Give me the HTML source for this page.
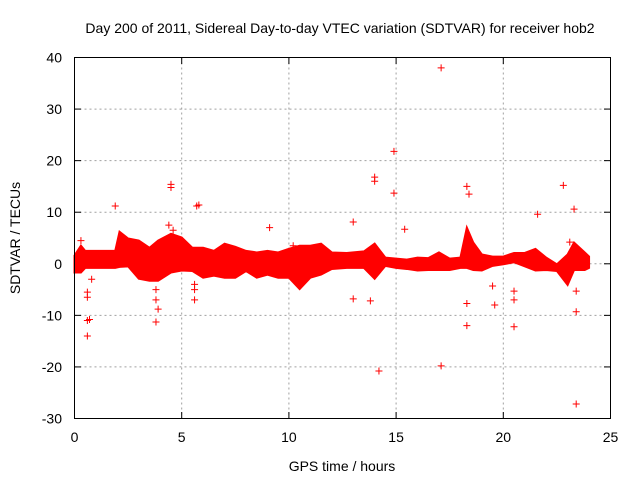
<!DOCTYPE html>
<html><head><meta charset="utf-8"><style>
body{margin:0;background:#fff}
svg{display:block;font-family:"Liberation Sans",sans-serif}
</style></head><body>
<svg id="c" width="640" height="480">
<text x="340" y="33" font-size="14" text-anchor="middle">Day 200 of 2011, Sidereal Day-to-day VTEC variation (SDTVAR) for receiver hob2</text>
<text x="342" y="471" font-size="14" text-anchor="middle">GPS time / hours</text>
<text x="20" y="238" font-size="14" text-anchor="middle" transform="rotate(-90 20 238)">SDTVAR / TECUs</text>
<g id="grid"></g><g id="ticks"></g><g id="band"></g><g id="pts"></g>
<rect x="74.5" y="57.5" width="536" height="361" fill="none" stroke="#000" stroke-width="1"/>
</svg>
<script>
const xTicks=[0,5,10,15,20,25];
const yTicks=[-30,-20,-10,0,10,20,30,40];
const bandHours=[0,0.3,0.5,1.0,1.9,2.1,2.5,3.0,3.5,3.9,4.5,5.0,5.5,6.0,6.5,7.0,7.5,8.0,8.5,9.0,9.5,10.0,10.5,11.0,11.5,12.0,12.7,13.5,14.0,14.5,15.0,15.5,16.0,16.5,17.0,17.5,18.0,18.3,18.6,19.0,19.5,20.0,20.5,21.0,21.5,22.0,22.5,23.0,23.3,23.8,24.0];
const bandUpper=[1.6,3.5,2.5,2.5,2.5,6.2,4.9,4.5,3.1,4.5,5.8,5.1,3.1,3.1,2.5,3.9,3.3,2.5,2.2,2.5,2.2,2.9,3.5,3.5,3.9,2.2,2.1,2.4,3.9,1.2,1.0,0.8,1.2,1.1,2.2,1.0,1.2,7.0,4.1,1.8,1.4,1.4,2.1,2.1,2.9,1.2,-0.1,1.8,4.1,2.2,1.4];
const bandLower=[-1.7,-1.7,-0.8,-0.8,-0.8,-0.6,-0.5,-2.9,-3.3,-3.3,-1.7,-1.3,-1.4,-2.7,-2.3,-2.7,-2.7,-1.4,-2.7,-2.1,-2.7,-2.7,-4.9,-2.7,-2.1,-1.0,-0.8,-0.8,-2.9,-0.4,-0.8,-1.0,-1.3,-1.2,-1.2,-1.2,-0.8,-0.8,-1.2,-1.3,-0.4,-0.1,0.3,-0.5,-1.3,-1.2,-1.4,-4.1,-1.2,-1.2,-0.8];
const outX=[17.1,14.9,14.0,14.0,4.5,4.5,18.3,18.4,22.8,14.9,5.7,5.8,1.9,23.3,21.6,13.0,9.1,15.4,4.4,0.6,0.6,0.7,0.6,0.6,3.8,13.0,13.8,14.2,17.1,18.3,18.3,19.5,19.6,20.5,20.5,20.5,23.4,23.4,23.4,3.8,3.8,5.6,5.6,5.6,0.3,0.8,3.9,4.6,10.2,23.1];
const outY=[38,21.8,16.8,16,15.4,14.8,15,13.5,15.2,13.7,11.2,11.4,11.2,10.6,9.6,8.1,7,6.7,7.5,-5.5,-6.5,-10.8,-11,-14,-11.3,-6.8,-7.2,-20.8,-19.8,-7.7,-12,-4.3,-8,-12.2,-7,-5.3,-5.3,-9.3,-27.2,-7,-5,-5,-7,-4,4.5,-3,-8.8,6.5,3.5,4.2];
const X=h=>74.5+h*(536/25);
const Y=v=>418.5-(v+30)*(361/70);
const NS='http://www.w3.org/2000/svg';
function mk(t,a,p){const e=document.createElementNS(NS,t);for(const k in a)e.setAttribute(k,a[k]);p.appendChild(e);return e;}
const grid=document.getElementById('grid'),ticks=document.getElementById('ticks');
xTicks.forEach(t=>{const x=X(t);
 if(t>0&&t<25){const g=mk('line',{x1:x,x2:x,y1:57.5,y2:418.5,stroke:'#a0a0a0','stroke-dasharray':'2,3'},grid);
 
 }
 mk('line',{x1:x,x2:x,y1:418.5,y2:412,stroke:'#000'},ticks);
 mk('line',{x1:x,x2:x,y1:57.5,y2:64,stroke:'#000'},ticks);
 const l=mk('text',{x:x,y:442,'font-size':14,'text-anchor':'middle'},ticks);l.textContent=t;
 
 });
yTicks.forEach(t=>{const y=Y(t);
 if(t>-30&&t<40){const g=mk('line',{x1:74.5,x2:610.5,y1:y,y2:y,stroke:'#a0a0a0','stroke-dasharray':'2,3'},grid);
 
 }
 mk('line',{x1:74.5,x2:81,y1:y,y2:y,stroke:'#000'},ticks);
 mk('line',{x1:610.5,x2:604,y1:y,y2:y,stroke:'#000'},ticks);
 const l=mk('text',{x:62,y:y+5,'font-size':14,'text-anchor':'end'},ticks);l.textContent=t;
 
 });
let d='';bandHours.forEach((h,i)=>{d+=(i?'L':'M')+X(h)+' '+Y(bandUpper[i]);});
for(let i=bandHours.length-1;i>=0;i--)d+='L'+X(bandHours[i])+' '+Y(bandLower[i]);
const b=mk('path',{d:d+'Z',fill:'#ff0000',stroke:'#ff0000','stroke-width':2},document.getElementById('band'));


const pts=document.getElementById('pts');
outX.forEach((h,i)=>{const x=X(h),y=Y(outY[i]);
 const p=mk('path',{d:`M${x-3.5} ${y}H${x+3.5}M${x} ${y-3.5}V${y+3.5}`,stroke:'#ff0000','stroke-width':1},pts);
 
 });
</script>
</body></html>
